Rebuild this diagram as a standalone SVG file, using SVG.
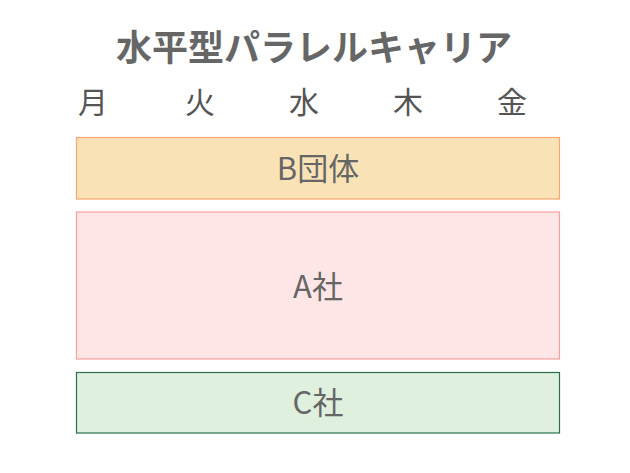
<svg xmlns="http://www.w3.org/2000/svg" width="630" height="473" viewBox="0 0 630 473">
<style>
text{font-family:"Noto Sans CJK JP","Noto Sans",sans-serif;fill:#666666;text-anchor:middle}
.title{font-size:36px;font-weight:bold}
.day{font-size:30px;fill:#555555}
.lbl{font-size:31px}
</style>
<rect width="630" height="473" fill="#ffffff"/>
<text class="title" x="314" y="61">水平型パラレルキャリア</text>
<g id="days">
<text class="day" x="93" y="113">月</text>
<text class="day" x="200" y="113">火</text>
<text class="day" x="304" y="113">水</text>
<text class="day" x="408" y="113">木</text>
<text class="day" x="512" y="113">金</text>
</g>
<g id="nodeB"><rect x="76.5" y="137.5" width="483" height="61.5" fill="#f9e3b6" stroke="#f7a670" stroke-width="1.2"/><text class="lbl" x="318" y="180">B団体</text></g>
<g id="nodeA"><rect x="76.5" y="212" width="483" height="147" fill="#fee6e7" stroke="#f8a0a0" stroke-width="1.2"/><text class="lbl" x="318" y="298">A社</text></g>
<g id="nodeC"><rect x="76.5" y="372.5" width="483" height="60.5" fill="#dff0de" stroke="#2e6e50" stroke-width="1.2"/><text class="lbl" x="318" y="414">C社</text></g>
<g id="connectors"></g>
</svg>
